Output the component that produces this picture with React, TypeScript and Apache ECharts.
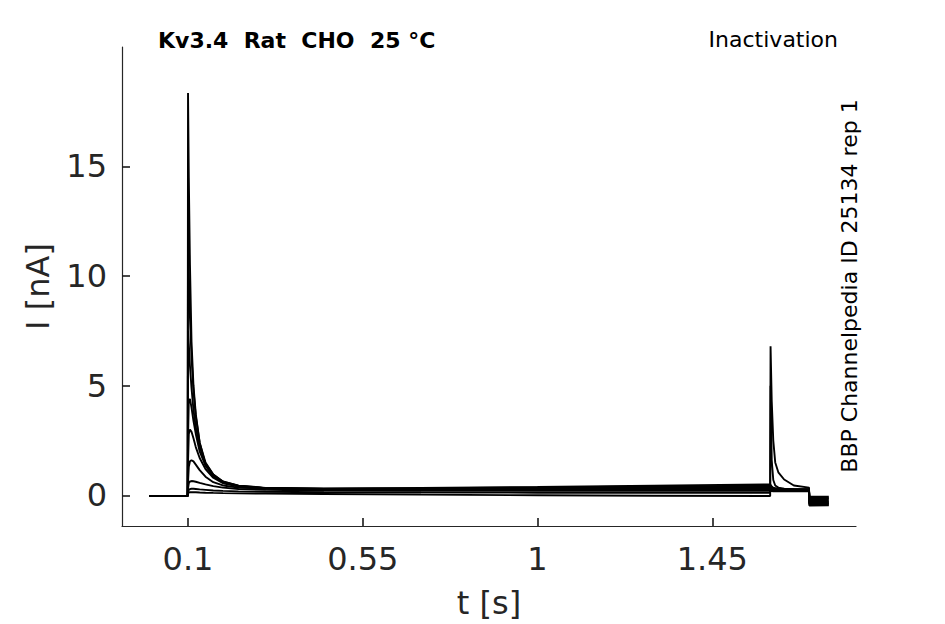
import React, { useEffect, useRef } from "react";
import * as echarts from "echarts";

// time points (s)
const T = [0, 0.099, 0.1, 0.102, 0.105, 0.109, 0.114, 0.12, 0.13, 0.145, 0.165, 0.19, 0.23, 0.3, 0.45, 0.7, 1.0, 1.3, 1.599, 1.6, 1.603, 1.607, 1.612, 1.62, 1.635, 1.66, 1.699, 1.7, 1.75];

// current traces (nA)
const s1 = [-0.03, -0.03, 18.35, 14.5, 10.5, 7.0, 5.0, 3.7, 2.4, 1.4, 0.85, 0.6, 0.42, 0.32, 0.27, 0.26, 0.28, 0.3, 0.32, 0.32, 0.3, 0.28, 0.27, 0.26, 0.25, 0.24, 0.24, -0.35, -0.35];
const s2 = [-0.03, -0.03, 12.0, 10.2, 8.1, 6.3, 4.8, 3.6, 2.4, 1.5, 0.95, 0.62, 0.44, 0.34, 0.3, 0.3, 0.33, 0.36, 0.38, 0.37, 0.34, 0.31, 0.3, 0.29, 0.28, 0.27, 0.27, -0.42, -0.42];
const s3 = [-0.03, -0.03, 7.5, 6.9, 5.9, 4.9, 3.9, 3.1, 2.2, 1.45, 0.95, 0.63, 0.44, 0.33, 0.3, 0.32, 0.36, 0.4, 0.44, 0.43, 0.38, 0.34, 0.32, 0.3, 0.29, 0.28, 0.28, -0.47, -0.46];
const s4 = [-0.03, -0.03, 2.6, 4.3, 4.4, 4.0, 3.4, 2.8, 2.0, 1.35, 0.9, 0.6, 0.42, 0.33, 0.3, 0.33, 0.38, 0.44, 0.5, 0.49, 0.4, 0.34, 0.31, 0.29, 0.28, 0.27, 0.26, -0.3, -0.3];
const s5 = [-0.03, -0.03, 1.5, 2.8, 3.0, 2.9, 2.6, 2.2, 1.7, 1.2, 0.8, 0.55, 0.4, 0.31, 0.27, 0.28, 0.3, 0.33, 0.35, 0.35, 0.3, 0.27, 0.25, 0.24, 0.24, 0.23, 0.23, -0.25, -0.25];
const s6 = [-0.03, -0.03, 0.6, 1.3, 1.55, 1.6, 1.55, 1.4, 1.15, 0.85, 0.6, 0.45, 0.35, 0.3, 0.26, 0.24, 0.25, 0.26, 0.27, 0.27, 0.24, 0.22, 0.21, 0.2, 0.2, 0.2, 0.2, -0.18, -0.18];
const s7 = [-0.03, -0.03, 0.3, 0.55, 0.63, 0.65, 0.64, 0.62, 0.57, 0.5, 0.42, 0.35, 0.29, 0.25, 0.22, 0.2, 0.2, 0.2, 0.2, 0.2, 0.19, 0.18, 0.18, 0.18, 0.18, 0.18, 0.18, -0.12, -0.12];
const s8 = [-0.03, -0.03, 0.15, 0.25, 0.28, 0.3, 0.3, 0.29, 0.27, 0.25, 0.22, 0.2, 0.18, 0.16, 0.14, 0.13, 0.12, 0.12, 0.12, 5.0, 1.6, 0.7, 0.45, 0.35, 0.3, 0.28, 0.27, -0.06, -0.06];
const s9 = [-0.03, -0.03, 0.1, 0.13, 0.14, 0.14, 0.14, 0.14, 0.13, 0.12, 0.11, 0.1, 0.09, 0.08, 0.06, 0.03, 0.0, -0.02, -0.03, 6.8, 4.3, 2.5, 1.5, 1.05, 0.72, 0.45, 0.35, -0.38, -0.38];

const traces = [s1, s2, s3, s4, s5, s6, s7, s8, s9];

const xTicks = [0.1, 0.55, 1, 1.45];
const yTicks = [0, 5, 10, 15];
const X_MIN = -0.07;
const X_MAX = 1.82;
const Y_MIN = -1.4;
const Y_MAX = 20.45;

const titleText = "Kv3.4  Rat  CHO  25 °C";
const protocolText = "Inactivation";
const sideText = "BBP Channelpedia ID 25134 rep 1";

const FONT = "DejaVu Sans";
const AX = "#262626";

export default function App() {
  const ref = useRef<HTMLDivElement>(null);
  useEffect(() => {
    if (!ref.current) return;
    const chart = echarts.init(ref.current, null, { renderer: "svg" });
    chart.setOption({
      animation: false,
      backgroundColor: "#ffffff",
      grid: { left: 122, top: 47, width: 734, height: 479 },
      xAxis: {
        type: "value",
        min: X_MIN,
        max: X_MAX,
        axisLine: { show: true, onZero: false, lineStyle: { color: AX, width: 1.2 } },
        axisTick: { show: true, inside: true, length: 8, customValues: xTicks, lineStyle: { color: "#1a1a1a", width: 1.6 } },
        axisLabel: { customValues: xTicks, fontSize: 32, color: AX, fontFamily: FONT, margin: 17, formatter: (v: number) => String(v) },
        splitLine: { show: false },
        name: "t [s]",
        nameLocation: "middle",
        nameGap: 61,
        nameTextStyle: { fontSize: 32, color: AX, fontFamily: FONT },
      },
      yAxis: {
        type: "value",
        min: Y_MIN,
        max: Y_MAX,
        axisLine: { show: true, onZero: false, lineStyle: { color: AX, width: 1.2 } },
        axisTick: { show: true, inside: true, length: 8, customValues: yTicks, lineStyle: { color: "#1a1a1a", width: 1.6 } },
        axisLabel: { customValues: yTicks, fontSize: 32, color: AX, fontFamily: FONT, margin: 15 },
        splitLine: { show: false },
        name: "I [nA]",
        nameLocation: "middle",
        nameGap: 68,
        nameRotate: 90,
        nameTextStyle: { fontSize: 32, color: AX, fontFamily: FONT },
      },
      graphic: [
        {
          type: "text",
          x: 158,
          y: 40,
          style: { text: titleText, font: `bold 22px "${FONT}"`, fill: "#000", align: "left", verticalAlign: "middle" },
        },
        {
          type: "text",
          x: 838,
          y: 39,
          style: { text: protocolText, font: `22px "${FONT}"`, fill: "#000", align: "right", verticalAlign: "middle" },
        },
        {
          type: "text",
          x: 849,
          y: 286,
          rotation: Math.PI / 2,
          style: { text: sideText, font: `22px "${FONT}"`, fill: "#000", align: "center", verticalAlign: "middle" },
        },
      ],
      series: traces.map((s, k) => ({
        type: "line",
        name: "trace" + (k + 1),
        showSymbol: false,
        symbol: "none",
        data: T.map((t, i) => [t, s[i]]),
        lineStyle: { color: "#000", width: 1.9 },
        emphasis: { disabled: true },
        z: 2,
      })),
    });
    return () => chart.dispose();
  }, []);
  return <div ref={ref} style={{ position: "fixed", left: 0, top: 0, width: 945, height: 624 }} />;
}
